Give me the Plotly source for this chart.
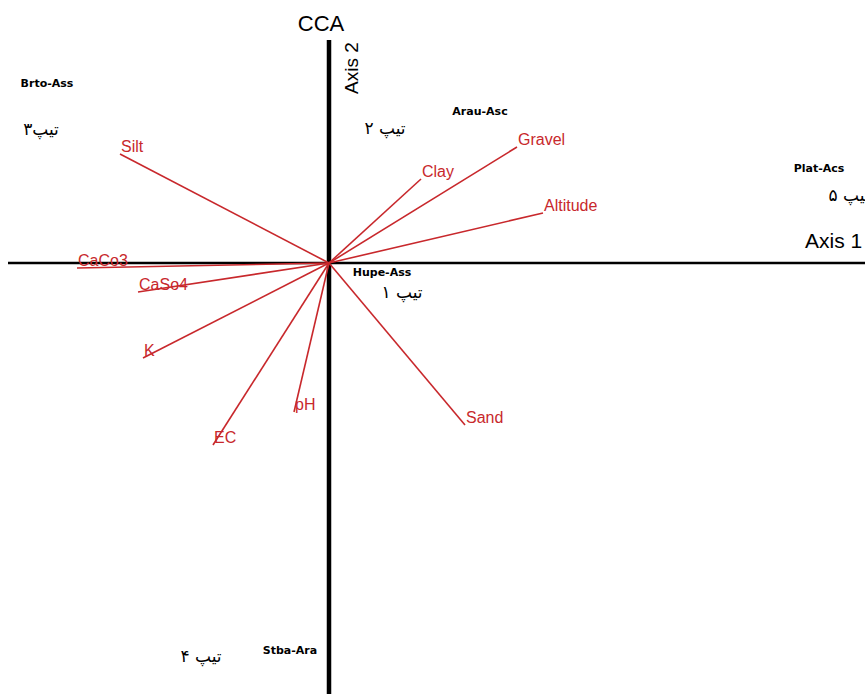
import plotly.graph_objects as go

# Environmental variable biplot scores (CCA axis 1, axis 2)
env_names = ["Silt", "Clay", "Gravel", "Altitude", "CaCo3", "CaSo4", "K", "pH", "EC", "Sand"]
env_x = [-2.09, 0.92, 1.88, 2.14, -2.52, -1.91, -1.86, -0.35, -1.16, 1.36]
env_y = [1.09, 0.84, 1.16, 0.50, -0.05, -0.29, -0.95, -1.49, -1.82, -1.62]

# Vegetation group (association) centroids
site_names = ["Brto-Ass", "Arau-Asc", "Plat-Acs", "Hupe-Ass", "Stba-Ara"]
site_x = [-2.82, 1.51, 4.90, 0.53, -0.39]
site_y = [1.785, 1.51, 0.94, -0.105, -3.88]

# Vegetation type labels
type_names = ["تیپ۳", "تیپ ۲", "تیپ ۵", "تیپ ۱", "تیپ ۴"]
type_x = [-2.88, 0.56, 5.20, 0.73, -1.28]
type_y = [1.32, 1.33, 0.665, -0.31, -3.95]

# Axis extents
x_range = [-3.29, 5.36]
y_range = [-4.31, 2.63]
axis1_extent = [-3.21, 5.36]
axis2_extent = [2.23, -4.31]

RED = "#c8282c"

fig = go.Figure()

# Ordination axes
fig.add_trace(go.Scatter(x=axis1_extent, y=[0, 0], mode="lines",
                         line=dict(color="black", width=2.5), hoverinfo="skip"))
fig.add_trace(go.Scatter(x=[0, 0], y=axis2_extent, mode="lines",
                         line=dict(color="black", width=4.5), hoverinfo="skip"))

# Environmental arrows
for name, x, y in zip(env_names, env_x, env_y):
    fig.add_trace(go.Scatter(x=[0, x], y=[0, y], mode="lines",
                             line=dict(color=RED, width=1.6), name=name))
    fig.add_annotation(x=x, y=y, text=name, showarrow=False,
                       xanchor="left", yanchor="middle", yshift=8, xshift=-1,
                       font=dict(family="Liberation Sans, Arial", size=16, color=RED))

# Site group labels
fig.add_trace(go.Scatter(x=site_x, y=site_y, mode="text", text=site_names,
                         textposition="middle center", cliponaxis=False,
                         textfont=dict(family="DejaVu Sans", size=11, color="black", weight="bold")))

# Type labels
fig.add_trace(go.Scatter(x=type_x, y=type_y, mode="text", text=type_names,
                         textposition="middle center", cliponaxis=False,
                         textfont=dict(family="DejaVu Sans", size=17, color="black")))

# Axis titles
fig.add_annotation(x=5.045, y=0.23, text="Axis 1", showarrow=False,
                   xanchor="center", yanchor="middle",
                   font=dict(family="Liberation Sans, Arial", size=21, color="black"))
fig.add_annotation(x=0.225, y=1.945, text="Axis 2", showarrow=False, textangle=-90,
                   xanchor="center", yanchor="middle",
                   font=dict(family="Liberation Sans, Arial", size=19, color="black"))

fig.update_layout(
    width=865, height=694,
    margin=dict(l=0, r=0, t=0, b=0),
    paper_bgcolor="white", plot_bgcolor="white",
    showlegend=False,
    title=dict(text="CCA", x=321 / 865, y=1 - 23 / 694, xanchor="center", yanchor="middle",
               font=dict(family="Liberation Sans, Arial", size=22, color="black")),
    xaxis=dict(range=x_range, visible=False, fixedrange=True),
    yaxis=dict(range=y_range, visible=False, fixedrange=True),
)

fig.write_html("out.html")
